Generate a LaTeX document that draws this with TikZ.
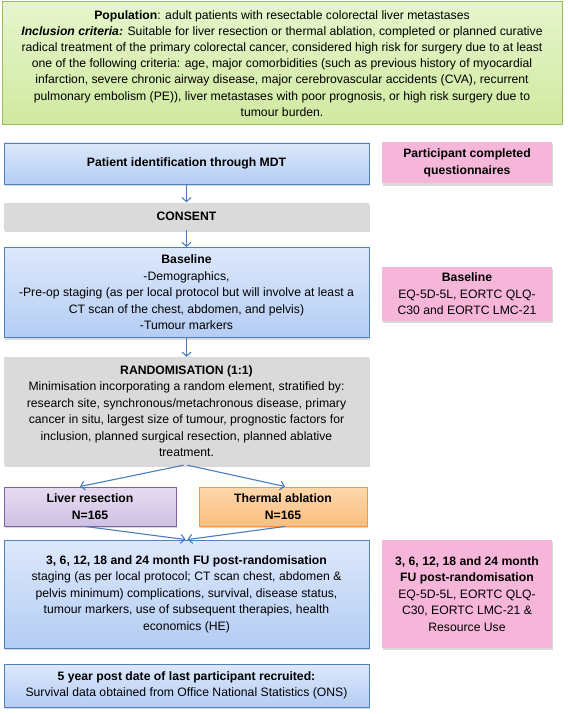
\documentclass[tikz,border=0pt]{standalone}
\usepackage{fontspec}
\setmainfont{Liberation Sans}
\usetikzlibrary{shadows,arrows.meta,calc}
\definecolor{greentop}{HTML}{E6F5CC}
\definecolor{greenbot}{HTML}{D0E9A0}
\definecolor{greenborder}{HTML}{9BBB59}
\definecolor{bluetop}{HTML}{DDE8FB}
\definecolor{bluebot}{HTML}{B4CDF4}
\definecolor{blueborder}{HTML}{4F81BD}
\definecolor{grayfill}{HTML}{DADADA}
\definecolor{pinkfill}{HTML}{F6B6DA}
\definecolor{purptop}{HTML}{E6DCF1}
\definecolor{purpbot}{HTML}{D0C0E4}
\definecolor{purpborder}{HTML}{8064A2}
\definecolor{orgtop}{HTML}{FDD8AC}
\definecolor{orgbot}{HTML}{FBBE80}
\definecolor{orgborder}{HTML}{F79646}
\definecolor{arrowblue}{HTML}{4A7EBB}
\begin{document}
\begin{tikzpicture}[x=1pt,y=-1pt,
  box/.style={inner sep=0pt, align=center, font=\fontsize{12.2}{16.5}\selectfont},
  shad/.style={drop shadow={opacity=0.3, shadow xshift=1pt, shadow yshift=-2pt}},
  greenbox/.style={box, font=\fontsize{12.2}{16.1}\selectfont, draw=greenborder, line width=1pt, top color=greentop, bottom color=greenbot},
  bluebox/.style={box, shad, draw=blueborder, line width=0.9pt, top color=bluetop, bottom color=bluebot},
  graybox/.style={box, shad, fill=grayfill},
  pinkbox/.style={box, shad, fill=pinkfill},
  purpbox/.style={box, shad, draw=purpborder, line width=0.9pt, top color=purptop, bottom color=purpbot},
  orgbox/.style={box, shad, draw=orgborder, line width=0.9pt, top color=orgtop, bottom color=orgbot},
  arr/.style={draw=arrowblue, line width=1.1pt, -{Straight Barb[length=4pt,width=9pt]}}
]
\useasboundingbox (0,0) rectangle (567,714);

\node[greenbox, minimum width=560pt, minimum height=123pt] (pop) at (282,63.5)
 {\textbf{Population}: adult patients with resectable colorectal liver metastases\\
  \textbf{\textit{Inclusion criteria:}} Suitable for liver resection or thermal ablation, completed or planned curative\\
  radical treatment of the primary colorectal cancer, considered high risk for surgery due to at least\\
  one of the following criteria: age, major comorbidities (such as previous history of myocardial\\
  infarction, severe chronic airway disease, major cerebrovascular accidents (CVA), recurrent\\
  pulmonary embolism (PE)), liver metastases with poor prognosis, or high risk surgery due to\\
  tumour burden.};

\node[bluebox, minimum width=365pt, minimum height=41pt] (patient) at (186.5,163.5)
 {\textbf{Patient identification through MDT}};
\node[pinkbox, minimum width=170pt, minimum height=41pt] (pq) at (467,163)
 {\textbf{Participant completed}\\\textbf{questionnaires}};

\node[graybox, minimum width=365pt, minimum height=27pt] (consent) at (186.5,216)
 {\textbf{CONSENT}};

\node[bluebox, minimum width=365pt, minimum height=90pt] (base) at (186.5,292.5)
 {\textbf{Baseline}\\-Demographics,\\-Pre-op staging (as per local protocol but will involve at least a\\CT scan of the chest, abdomen, and pelvis)\\-Tumour markers};
\node[pinkbox, minimum width=170pt, minimum height=54pt] (pbase) at (467,294)
 {\textbf{Baseline}\\EQ-5D-5L, EORTC QLQ-\\C30 and EORTC LMC-21};

\node[graybox, minimum width=365pt, minimum height=108pt] (rand) at (186.5,411)
 {\textbf{RANDOMISATION (1:1)}\\Minimisation incorporating a random element, stratified by:\\research site, synchronous/metachronous disease, primary\\cancer in situ, largest size of tumour, prognostic factors for\\inclusion, planned surgical resection, planned ablative\\treatment.};

\node[purpbox, minimum width=172pt, minimum height=39pt, font=\fontsize{12.2}{17}\selectfont] (liver) at (90,506.5)
 {\textbf{Liver resection}\\\textbf{N=165}};
\node[orgbox, minimum width=168pt, minimum height=39pt, font=\fontsize{12.2}{17}\selectfont] (thermal) at (283,506.5)
 {\textbf{Thermal ablation}\\\textbf{N=165}};

\node[bluebox, minimum width=365pt, minimum height=108pt] (fu) at (186.5,594)
 {\textbf{3, 6, 12, 18 and 24 month FU post-randomisation}\\staging (as per local protocol; CT scan chest, abdomen \&\\pelvis minimum) complications, survival, disease status,\\tumour markers, use of subsequent therapies, health\\economics (HE)};
\node[pinkbox, minimum width=170pt, minimum height=108pt] (pfu) at (467,594)
 {\textbf{3, 6, 12, 18 and 24 month}\\\textbf{FU post-randomisation}\\EQ-5D-5L, EORTC QLQ-\\C30, EORTC LMC-21 \&\\Resource Use};

\node[bluebox, minimum width=365pt, minimum height=43pt] (five) at (186.5,685.5)
 {\textbf{5 year post date of last participant recruited:}\\Survival data obtained from Office National Statistics (ONS)};

\draw[arr] (patient.south) -- (consent.north);
\draw[arr] (consent.south) -- (base.north);
\draw[arr] (base.south) -- (rand.north);
\draw[arr] ($(rand.south)+(-3,0)$) -- ($(liver.north)+(-10,0)$);
\draw[arr] ($(rand.south)+(1,0)$) -- ($(thermal.north)+(2,0)$);
\draw[arr] ($(liver.south)+(-5,0)$) -- ($(fu.north)+(-1,0)$);
\draw[arr] ($(thermal.south)+(2,0)$) -- ($(fu.north)+(1,0)$);
\end{tikzpicture}
\end{document}
